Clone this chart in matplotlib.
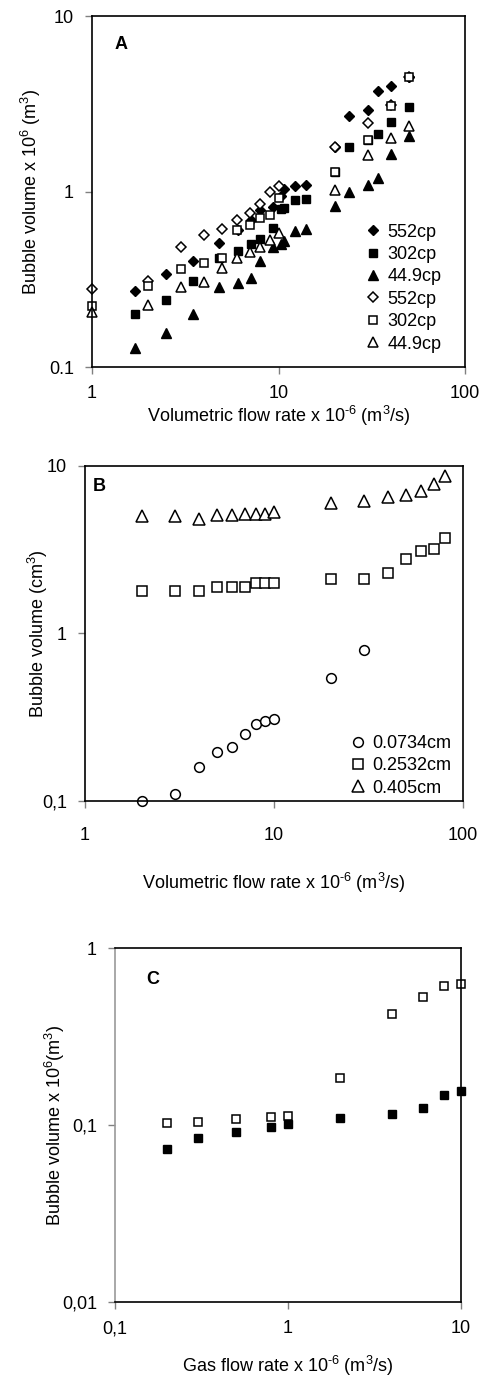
import numpy as np
import matplotlib
matplotlib.use("Agg")
from matplotlib import pyplot as plt
from matplotlib.ticker import NullLocator

plt.rcParams['font.family'] = ['Liberation Sans', 'DejaVu Sans']
plt.rcParams['mathtext.fontset'] = 'custom'
plt.rcParams['mathtext.rm'] = 'Liberation Sans'
plt.rcParams['mathtext.default'] = 'regular'
plt.rcParams['font.size'] = 13

# --- panel A: viscosity series (filled / open markers)
a_x_filled = [1.7, 2.5, 3.5, 4.8, 6.1, 7.1, 8, 9.3, 10.3, 10.7, 12.2, 14, 20, 24, 30, 34, 40, 50]
a_552_filled = [0.27, 0.34, 0.40, 0.51, 0.60, 0.69, 0.79, 0.82, 0.94, 1.04, 1.07, 1.09, 1.79, 2.7, 2.9, 3.75, 4.0, 4.5]
a_302_filled = [0.20, 0.24, 0.31, 0.42, 0.46, 0.50, 0.54, 0.62, 0.80, 0.81, 0.90, 0.91, 1.29, 1.8, 1.97, 2.14, 2.5, 3.04]
a_449_filled = [0.128, 0.157, 0.20, 0.287, 0.30, 0.32, 0.40, 0.48, 0.50, 0.52, 0.595, 0.61, 0.83, 1.0, 1.09, 1.19, 1.63, 2.07]
a_x_open = [1, 2, 3, 4, 5, 6, 7, 8, 9, 10, 20, 30, 40, 50]
a_552_open = [0.28, 0.31, 0.48, 0.565, 0.614, 0.688, 0.751, 0.845, 0.99, 1.07, 1.8, 2.47, 3.1, 4.5]
a_302_open = [0.223, 0.29, 0.36, 0.39, 0.42, 0.60, 0.641, 0.709, 0.735, 0.915, 1.29, 1.97, 3.07, 4.5]
a_449_open = [0.207, 0.226, 0.287, 0.305, 0.368, 0.416, 0.454, 0.485, 0.533, 0.578, 1.02, 1.61, 2.01, 2.37]

# --- panel B: orifice diameters
b_x_small = [2, 3, 4, 5, 6, 7, 8, 9, 10, 20, 30]
b_0734 = [0.1, 0.11, 0.16, 0.195, 0.21, 0.25, 0.29, 0.30, 0.31, 0.54, 0.8]
b_x = [2, 3, 4, 5, 6, 7, 8, 9, 10, 20, 30, 40, 50, 60, 70, 80]
b_2532 = [1.8, 1.8, 1.8, 1.9, 1.9, 1.9, 2.0, 2.0, 2.0, 2.1, 2.1, 2.3, 2.8, 3.1, 3.2, 3.7]
b_405 = [5.0, 5.0, 4.8, 5.1, 5.1, 5.2, 5.2, 5.2, 5.3, 6.0, 6.2, 6.5, 6.7, 7.1, 7.8, 8.7]

# --- panel C: gas flow rate
c_x = [0.2, 0.3, 0.5, 0.8, 1, 2, 4, 6, 8, 10]
c_open = [0.103, 0.1045, 0.108, 0.111, 0.112, 0.184, 0.425, 0.532, 0.607, 0.628]
c_filled = [0.0728, 0.084, 0.0917, 0.0978, 0.1013, 0.110, 0.1154, 0.125, 0.148, 0.156]

xlab_vol = r'Volumetric flow rate x 10$^{\text{-6}}$ (m$^{3}$/s)'

fig = plt.figure(figsize=(4.84, 13.81), dpi=100)


def setup(ax, xlim, ylim, xticks, xlabels, yticks, ylabels, xpad=8):
    ax.set_xscale('log')
    ax.set_yscale('log')
    ax.set_xlim(xlim)
    ax.set_ylim(ylim)
    ax.set_xticks(xticks)
    ax.set_xticklabels(xlabels)
    ax.set_yticks(yticks)
    ax.set_yticklabels(ylabels)
    ax.xaxis.set_minor_locator(NullLocator())
    ax.yaxis.set_minor_locator(NullLocator())
    ax.tick_params(direction='out', length=5, width=1, color='0.5', pad=8, labelsize=13)
    ax.tick_params(axis='x', pad=xpad)
    for s in ax.spines.values():
        s.set_linewidth(1.2)


filled = dict(linestyle='none', color='black', clip_on=False)
opened = dict(linestyle='none', mfc='white', mec='black', mew=1.1, clip_on=False)

# A
ax = fig.add_axes([0.190, 0.7342, 0.771, 0.2542])
setup(ax, (1, 100), (0.1, 10), [1, 10, 100], ['1', '10', '100'], [0.1, 1, 10], ['0.1', '1', '10'])
ax.plot(a_x_filled, a_552_filled, marker='D', ms=5.5, label='552cp', **filled)
ax.plot(a_x_filled, a_302_filled, marker='s', ms=6, label='302cp', **filled)
ax.plot(a_x_filled, a_449_filled, marker='^', ms=7, label='44.9cp', **filled)
ax.plot(a_x_open, a_552_open, marker='D', ms=5, label='552cp', **opened)
ax.plot(a_x_open, a_302_open, marker='s', ms=5.5, label='302cp', **opened)
ax.plot(a_x_open, a_449_open, marker='^', ms=6.5, label='44.9cp', **opened)
ax.set_xlabel(xlab_vol, fontsize=13, labelpad=1)
ax.set_ylabel(r'Bubble volume x 10$^{6}$ (m$^{3}$)', fontsize=13)
ax.text(0.06, 0.92, 'A', transform=ax.transAxes, fontsize=13, fontweight='bold', va='center')
ax.legend(loc='center left', bbox_to_anchor=(0.71, 0.225), frameon=False, handlelength=0.8,
          handletextpad=0.4, labelspacing=0.3, borderpad=0, fontsize=13)

# B
ax = fig.add_axes([0.1756, 0.42, 0.781, 0.2426])
setup(ax, (1, 100), (0.1, 10), [1, 10, 100], ['1', '10', '100'], [0.1, 1, 10], ['0,1', '1', '10'],
      xpad=14)
ax.plot(b_x_small, b_0734, marker='o', ms=7, label='0.0734cm', **opened)
ax.plot(b_x, b_2532, marker='s', ms=7, label='0.2532cm', **opened)
ax.plot(b_x, b_405, marker='^', ms=8, label='0.405cm', **opened)
ax.set_xlabel(xlab_vol, fontsize=13, labelpad=19)
ax.set_ylabel(r'Bubble volume (cm$^{3}$)', fontsize=13, labelpad=-6)
ax.text(0.02, 0.94, 'B', transform=ax.transAxes, fontsize=13, fontweight='bold', va='center')
ax.legend(loc='center left', bbox_to_anchor=(0.68, 0.105), frameon=False, handlelength=0.8,
          handletextpad=0.4, labelspacing=0.3, borderpad=0, fontsize=13)

# C
ax = fig.add_axes([0.2376, 0.0572, 0.715, 0.2563])
setup(ax, (0.1, 10), (0.01, 1), [0.1, 1, 10], ['0,1', '1', '10'], [0.01, 0.1, 1], ['0,01', '0,1', '1'])
ax.plot(c_x, c_open, marker='s', ms=5.5, **opened)
ax.plot(c_x, c_filled, marker='s', ms=6, **filled)
ax.spines['left'].set_color('0.6')
ax.set_xlabel(r'Gas flow rate x 10$^{\text{-6}}$ (m$^{3}$/s)', fontsize=13, labelpad=12)
ax.set_ylabel(r'Bubble volume x 10$^{6}$(m$^{3}$)', fontsize=13, labelpad=-4)
ax.text(0.09, 0.91, 'C', transform=ax.transAxes, fontsize=13, fontweight='bold', va='center')

fig.savefig('out.png', dpi=100)
